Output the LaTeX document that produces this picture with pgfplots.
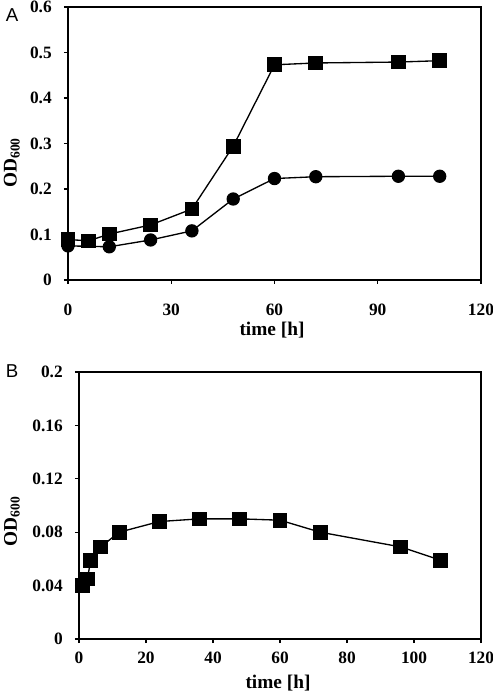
\documentclass[border=0pt]{standalone}
\usepackage{fontspec}
\setmainfont{Liberation Serif}
\newfontfamily\panelfont{Liberation Sans}
\usepackage{pgfplots}
\pgfplotsset{compat=1.18}
\begin{document}
\begin{tikzpicture}
\useasboundingbox (0,0) rectangle (369.75pt,520.5pt);
\pgfplotsset{
  common/.style={
    scale only axis,
    axis lines*=box,
    axis line style={line width=1.2pt},
    tick align=outside,
    tick style={line width=1pt, black},
    major tick length=3pt,
    xtick pos=bottom, ytick pos=left,
    font=\bfseries,
    tick label style={font=\fontsize{13}{15}\selectfont\bfseries},
    label style={font=\fontsize{14.5}{17}\selectfont\bfseries},
    every axis plot/.append style={black, line width=1pt, mark options={solid, fill=black}},
  }
}
\begin{axis}[common,
  at={(51pt,310.5pt)}, anchor=south west,
  width=309.75pt, height=204.75pt,
  xmin=0, xmax=120, ymin=0, ymax=0.6,
  xtick={0,30,60,90,120}, xticklabels={0,30,60,90,120},
  ytick={0,0.1,0.2,0.3,0.4,0.5,0.6}, yticklabels={0,0.1,0.2,0.3,0.4,0.5,0.6},
  xticklabel style={anchor=center, yshift=-19pt},
  yticklabel style={anchor=east, inner sep=0pt, xshift=-9pt},
  xlabel={time [h]}, ylabel={OD\textsubscript{600}},
  xlabel style={at={(axis description cs:0.494,-0.183)}, anchor=center},
  ylabel style={at={(axis description cs:-0.136,0.43)}, anchor=center, rotate=0},
]
\addplot[mark=square*, mark size=5pt] coordinates {
(0,0.089) (6,0.086) (12,0.101) (24,0.121) (36,0.156) (48,0.294) (60,0.473) (72,0.477) (96,0.479) (108,0.482)};
\addplot[mark=*, mark size=4.5pt] coordinates {
(0,0.075) (12,0.073) (24,0.088) (36,0.108) (48,0.178) (60,0.223) (72,0.227) (96,0.228) (108,0.228)};
\end{axis}
\node[font=\panelfont\fontsize{14}{16}\selectfont] at (9pt,509pt) {A};

\begin{axis}[common,
  at={(59.25pt,41.25pt)}, anchor=south west,
  width=301.5pt, height=200.25pt,
  xmin=0, xmax=120, ymin=0, ymax=0.2,
  xtick={0,20,40,60,80,100,120}, xticklabels={0,20,40,60,80,100,120},
  ytick={0,0.04,0.08,0.12,0.16,0.2}, yticklabels={0,0.04,0.08,0.12,0.16,0.2},
  xticklabel style={anchor=center, yshift=-11pt},
  yticklabel style={anchor=east, inner sep=0pt, xshift=-9pt},
  xlabel={time [h]}, ylabel={OD\textsubscript{600}},
  xlabel style={at={(axis description cs:0.495,-0.165)}, anchor=center},
  ylabel style={at={(axis description cs:-0.167,0.44)}, anchor=center, rotate=0},
]
\addplot[mark=square*, mark size=5pt] coordinates {
(1,0.040) (2.5,0.045) (3.5,0.059) (6.5,0.069) (12,0.080) (24,0.088) (36,0.090) (48,0.090) (60,0.089) (72,0.080) (96,0.069) (108,0.059)};
\end{axis}
\node[font=\panelfont\fontsize{14}{16}\selectfont] at (9pt,242pt) {B};
\end{tikzpicture}
\end{document}
